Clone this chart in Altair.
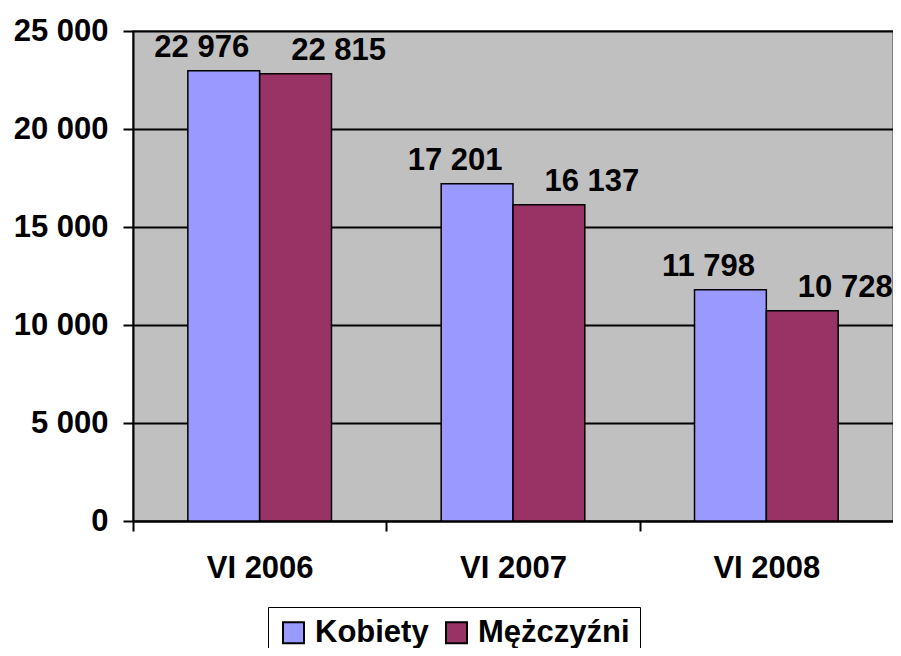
import altair as alt
import pandas as pd

periods = ["VI 2006", "VI 2007", "VI 2008"]
kobiety = [22976, 17201, 11798]
mezczyzni = [22815, 16137, 10728]
series = ["Kobiety", "Mężczyźni"]
colors = ["#9999FF", "#993366"]
y_ticks = [0, 5000, 10000, 15000, 20000, 25000]

rows = []
for p, k, m in zip(periods, kobiety, mezczyzni):
    rows.append({"period": p, "series": series[0], "value": k})
    rows.append({"period": p, "series": series[1], "value": m})
df = pd.DataFrame(rows)

FONT = "Liberation Sans"
FS = 31
W = 760
STEP = W / 3

x_enc = alt.X(
    "period:N", sort=periods, title=None,
    scale=alt.Scale(paddingInner=0.433, paddingOuter=0.2165),
    axis=alt.Axis(
        labelAngle=0, tickSize=10, tickColor="black", tickWidth=2,
        tickOffset=-STEP / 2, labelOffset=STEP / 2,
        domainColor="black", domainWidth=2, grid=False,
        labelFont=FONT, labelFontSize=FS, labelFontWeight="bold", labelColor="black",
        labelPadding=22,
    ),
)
xoff = alt.XOffset("series:N", sort=series, scale=alt.Scale(paddingInner=0, paddingOuter=0))
y_enc = alt.Y(
    "value:Q", title=None,
    scale=alt.Scale(domain=[0, 25000], nice=False),
    axis=alt.Axis(
        values=y_ticks, tickSize=10, tickColor="black", tickWidth=2,
        domainColor="black", domainWidth=2,
        grid=True, gridColor="black", gridWidth=2, gridOpacity=1,
        labelFont=FONT, labelFontSize=FS, labelFontWeight="bold", labelColor="black",
        labelPadding=15,
        labelExpr="replace(format(datum.value, ','), regexp(',', 'g'), ' ')",
    ),
)

base = alt.Chart(df).transform_calculate(
    label="replace(format(datum.value, ','), regexp(',', 'g'), ' ')"
)

bars = base.mark_bar(stroke="black", strokeWidth=1.5).encode(
    x=x_enc, xOffset=xoff, y=y_enc,
    color=alt.Color(
        "series:N", sort=series,
        scale=alt.Scale(domain=series, range=colors),
        legend=alt.Legend(
            orient="none", legendX=135, legendY=576, direction="horizontal", title=None,
            symbolType="square", symbolSize=441, symbolStrokeColor="black",
            symbolStrokeWidth=2, symbolOpacity=1,
            labelFont=FONT, labelFontSize=FS, labelFontWeight="bold", labelColor="black",
            strokeColor="black", fillColor="white",
            padding=10, columnPadding=12, labelOffset=6,
        ),
    ),
)

def text_layer(s, dx):
    return base.transform_filter(alt.datum.series == s).mark_text(
        font=FONT, fontSize=FS, fontWeight="bold", color="black",
        baseline="alphabetic", align="center", dx=dx, dy=-14,
    ).encode(x=x_enc, xOffset=xoff, y=y_enc, text="label:N")

chart = alt.layer(bars, text_layer(series[0], -22), text_layer(series[1], 43)).properties(
    width=W, height=490,
    autosize=alt.AutoSizeParams(type="none"),
    padding={"left": 125, "top": 23, "right": 0, "bottom": 127},
    background="white",
).configure_view(stroke="#808080", strokeWidth=2, fill="#C0C0C0")

chart.save("out.html", embed_options={"renderer": "svg", "actions": False})
